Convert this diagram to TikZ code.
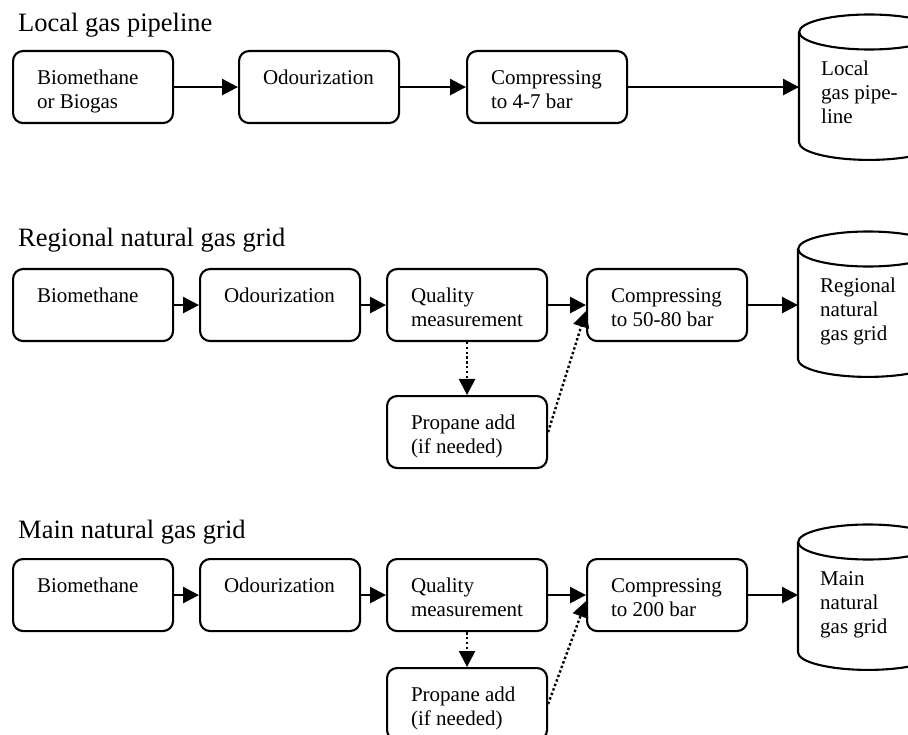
\documentclass[tikz,border=0pt]{standalone}
\usepackage{fontspec}
\setmainfont{Liberation Serif}
\usetikzlibrary{arrows.meta}

% text set from the top-left corner of a process box / tank
\newcommand\boxlines[1]{\parbox[c][72pt][t]{112pt}{\raggedright\vspace*{16.2pt}\strut#1}}
\newcommand\tanklines[1]{\parbox[c][110pt][t]{96pt}{\raggedright\vspace*{26.2pt}\strut#1}}

\tikzset{
  stage/.style={draw, line width=2.1pt, rounded corners=10pt, inner xsep=24pt,
    inner ysep=0pt, anchor=north west, font=\fontsize{21}{24}\selectfont},
  tank/.style={inner xsep=22pt, inner ysep=0pt, anchor=north west,
    font=\fontsize{21}{24}\selectfont},
  tankline/.style={line width=2.1pt},
  heading/.style={anchor=base west, inner sep=0pt, font=\fontsize{26.5}{30}\selectfont},
  flow/.style={line width=2.6pt, -{Triangle[length=16pt,width=16pt]}},
  optflow/.style={flow, line width=2.4pt, dash pattern=on 2.4pt off 2.4pt},
}

\begin{document}
\begin{tikzpicture}[x=1pt, y=-1pt]
\useasboundingbox (0,0) rectangle (908,735);
\clip (0,0) rectangle (908,735);

% ---------- local gas pipeline ----------
\node[heading] (h1) at (18,32) {Local gas pipeline};
\node[stage] (a1) at (12,50)  {\boxlines{Biomethane\\or Biogas}};
\node[stage] (b1) at (238,50) {\boxlines{Odourization}};
\node[stage] (c1) at (466,50) {\boxlines{Compressing\\to 4-7 bar}};
\node[tank]  (t1) at (799,32) {\tanklines{Local\\gas pipe-\\line}};
\draw[tankline] (t1.north west) -- (t1.south west)
  arc[start angle=180, end angle=360, x radius=70pt, y radius=17.5pt] -- (t1.north east);
\draw[tankline] (t1.north) ellipse [x radius=70pt, y radius=17.5pt];
\draw[flow] (a1) -- (b1);
\draw[flow] (b1) -- (c1);
\draw[flow] (c1.east) -- (c1.east -| t1.west);

% ---------- regional natural gas grid ----------
\node[heading] (h2) at (18,247) {Regional natural gas grid};
\node[stage] (a2) at (12,268)  {\boxlines{Biomethane}};
\node[stage] (b2) at (199,268) {\boxlines{Odourization}};
\node[stage] (c2) at (386,268) {\boxlines{Quality\\measurement}};
\node[stage] (d2) at (586,268) {\boxlines{Compressing\\to 50-80 bar}};
\node[stage] (p2) at (386,395) {\boxlines{Propane add\\(if needed)}};
\node[tank]  (t2) at (798,249) {\tanklines{Regional\\natural\\gas grid}};
\draw[tankline] (t2.north west) -- (t2.south west)
  arc[start angle=180, end angle=360, x radius=70pt, y radius=17.5pt] -- (t2.north east);
\draw[tankline] (t2.north) ellipse [x radius=70pt, y radius=17.5pt];
\draw[flow] (a2) -- (b2);
\draw[flow] (b2) -- (c2);
\draw[flow] (c2) -- (d2);
\draw[flow] (d2.east) -- (d2.east -| t2.west);
\draw[optflow] (c2.south) -- (p2.north);
\draw[optflow] (p2.east) -- ([yshift=-6pt]d2.west);

% ---------- main natural gas grid ----------
\node[heading] (h3) at (18,538) {Main natural gas grid};
\node[stage] (a3) at (12,558)  {\boxlines{Biomethane}};
\node[stage] (b3) at (199,558) {\boxlines{Odourization}};
\node[stage] (c3) at (386,558) {\boxlines{Quality\\measurement}};
\node[stage] (d3) at (586,558) {\boxlines{Compressing\\to 200 bar}};
\node[stage] (p3) at (386,667) {\boxlines{Propane add\\(if needed)}};
\node[tank]  (t3) at (798,542) {\tanklines{Main\\natural\\gas grid}};
\draw[tankline] (t3.north west) -- (t3.south west)
  arc[start angle=180, end angle=360, x radius=70pt, y radius=17.5pt] -- (t3.north east);
\draw[tankline] (t3.north) ellipse [x radius=70pt, y radius=17.5pt];
\draw[flow] (a3) -- (b3);
\draw[flow] (b3) -- (c3);
\draw[flow] (c3) -- (d3);
\draw[flow] (d3.east) -- (d3.east -| t3.west);
\draw[optflow] (c3.south) -- (p3.north);
\draw[optflow] (p3.east) -- ([yshift=-6pt]d3.west);
\end{tikzpicture}
\end{document}
